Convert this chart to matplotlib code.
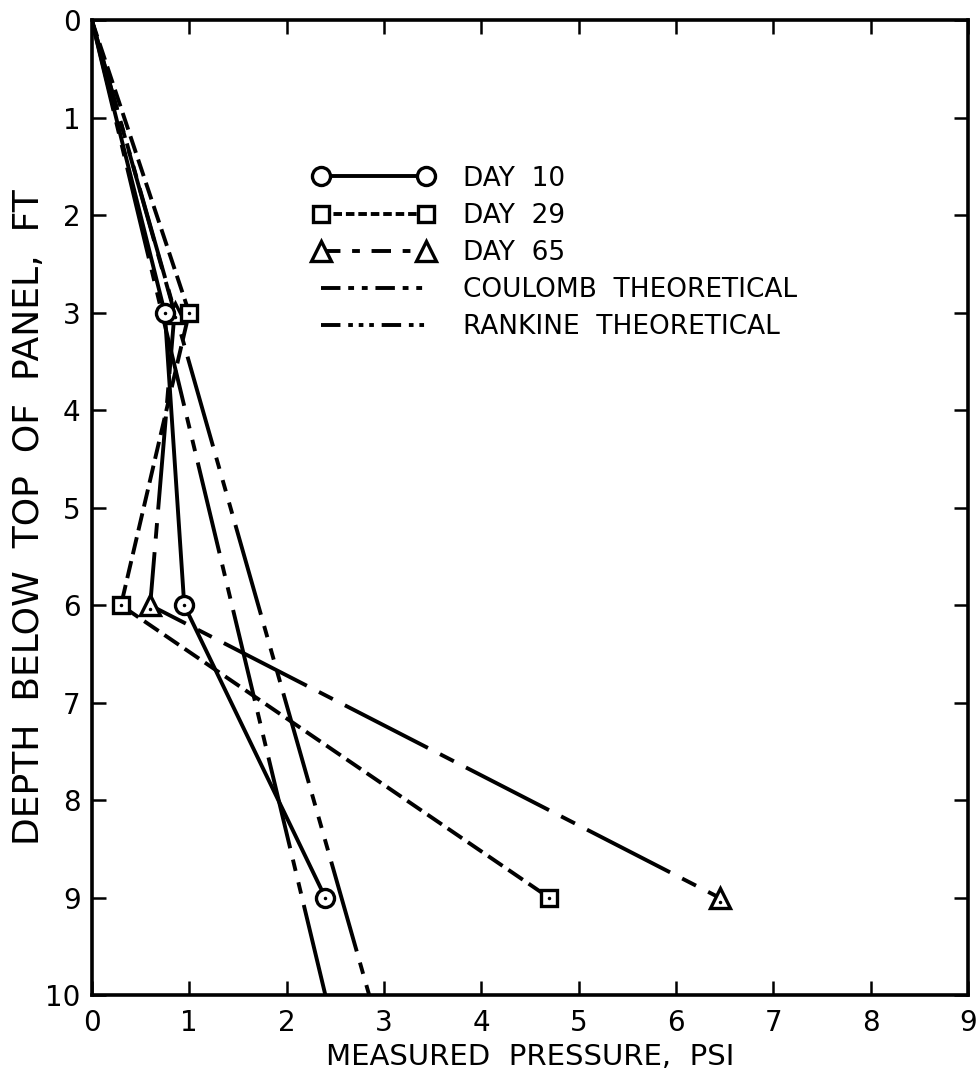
import numpy as np
import matplotlib
matplotlib.use("Agg")
import matplotlib.pyplot as plt
from matplotlib.lines import Line2D

# depth below top of panel (ft) and measured pressure (psi)
depth = [0, 3, 6, 9]
day10 = [0, 0.75, 0.95, 2.4]
day29 = [0, 1.0, 0.3, 4.7]
day65 = [0, 0.85, 0.6, 6.45]

# theoretical lines: straight from the top, pressure at 10 ft
theory_depth = [0, 10]
coulomb = [0, 2.4]
rankine = [0, 2.85]

xticks = list(range(0, 10))
yticks = list(range(0, 11))

plt.rcParams['font.family'] = ['DejaVu Sans']

fig = plt.figure(figsize=(9.76, 10.82), dpi=100)
ax = fig.add_axes([0.094, 0.080, 0.898, 0.9015])

lw = 2.8
ms = 13
mew = 2.4
ls29 = (0, (4.5, 1.8))
ls65 = (0, (24, 3.5, 4, 3.5))
ls_coul = (0, (24, 3, 3, 3, 3, 3))
ls_rank = (0, (24, 3, 3, 3, 3, 3, 3, 3))

mk10 = dict(marker='o', ms=ms, mfc='white', mec='black', mew=mew)
mk29 = dict(marker='s', ms=ms - 1, mfc='white', mec='black', mew=mew)
mk65 = dict(marker='^', ms=ms + 1, mfc='white', mec='black', mew=mew)

ax.plot(day65, depth, color='black', lw=lw, ls=ls65, zorder=2)
ax.plot(day65[1:], depth[1:], ls='none', zorder=2.5, **mk65)
ax.plot(day10, depth, color='black', lw=lw, zorder=3)
ax.plot(day10[1:], depth[1:], ls='none', zorder=3.5, **mk10)
ax.plot(day29, depth, color='black', lw=lw, ls=ls29, zorder=3)
ax.plot(day29[1:], depth[1:], ls='none', zorder=3.5, **mk29)
ax.plot(coulomb, theory_depth, color='black', lw=lw, ls=ls_coul, zorder=2)
ax.plot(rankine, theory_depth, color='black', lw=lw, ls=ls_rank, zorder=2)

# small dots in marker centres
ax.plot(day10[1:], depth[1:], ls='none', marker='.', ms=3, color='black', zorder=4)
ax.plot(day29[1:], depth[1:], ls='none', marker='.', ms=3, color='black', zorder=4)
ax.plot(day65[1:], np.array(depth[1:]) + 0.04, ls='none', marker='.', ms=3, color='black', zorder=3)

ax.set_xlim(0, 9)
ax.set_ylim(10, 0)
ax.set_xticks(xticks)
ax.set_yticks(yticks)
ax.tick_params(direction='in', length=10, width=1.8, top=True, right=True, labelsize=20, pad=8)
ax.tick_params(axis='x', pad=10)
for s in ax.spines.values():
    s.set_linewidth(2.6)

ax.set_xlabel('MEASURED  PRESSURE,  PSI', fontsize=21, labelpad=4)
ax.set_ylabel('DEPTH  BELOW  TOP  OF  PANEL,  FT', fontsize=26, labelpad=0)
ax.yaxis.set_label_coords(-0.052, 0.49)

handles = [
    Line2D([], [], color='black', lw=lw, **mk10),
    Line2D([], [], color='black', lw=lw, ls=(0, (2.2, 1.0)), **mk29),
    Line2D([], [], color='black', lw=lw, ls=(0, (5, 3, 2, 3)), **mk65),
    Line2D([], [], color='black', lw=lw, ls=(0, (5, 2, 1.5, 2, 1.5, 2))),
    Line2D([], [], color='black', lw=lw, ls=(0, (5, 2, 1.2, 1.5, 1.2, 1.5, 1.2, 2))),
]
labels = ['DAY  10', 'DAY  29', 'DAY  65', 'COULOMB  THEORETICAL', 'RANKINE  THEORETICAL']
ax.legend(handles, labels, loc='upper left', bbox_to_anchor=(0.225, 0.875), frameon=False,
          fontsize=19, numpoints=2, handlelength=4.6, handletextpad=1.1, labelspacing=0.42)

fig.savefig('out.png', dpi=100, facecolor='white')
